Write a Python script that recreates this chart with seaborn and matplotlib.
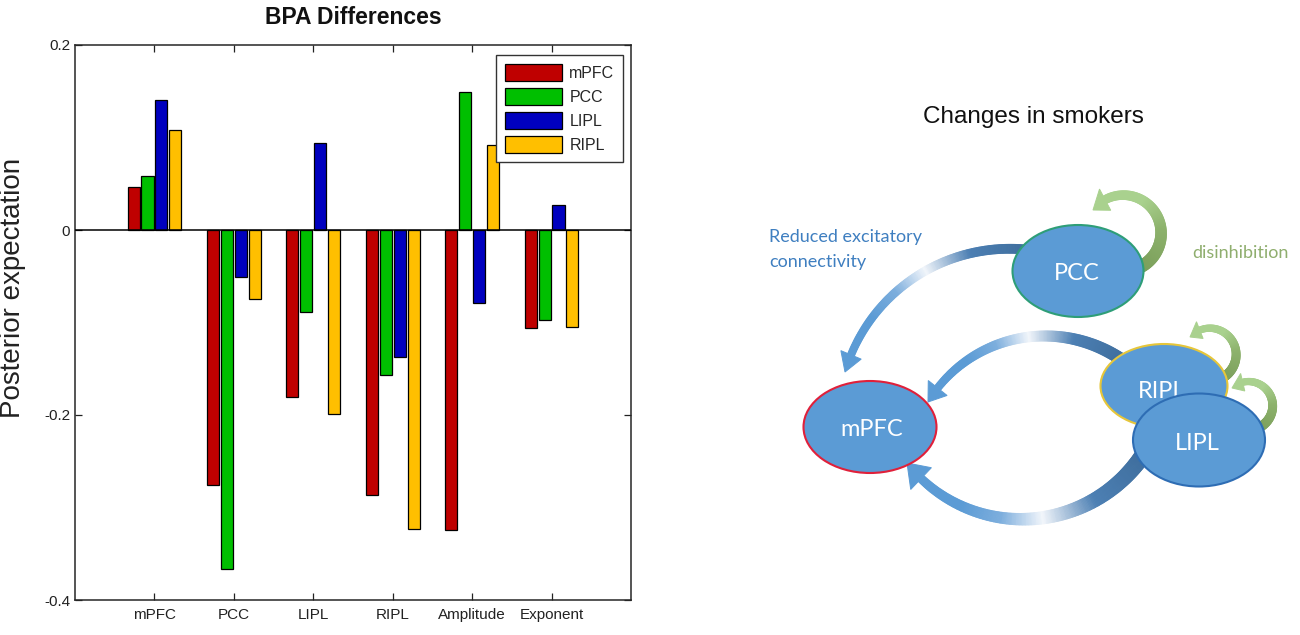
import numpy as np
import pandas as pd
import matplotlib
matplotlib.use("Agg")
import matplotlib.pyplot as plt
import seaborn as sns
from matplotlib.patches import Ellipse, Polygon
from matplotlib.collections import PolyCollection
from matplotlib.colors import LinearSegmentedColormap

# ---------------- data ----------------
parameters = ["mPFC", "PCC", "LIPL", "RIPL", "Amplitude", "Exponent"]
regions = ["mPFC", "PCC", "LIPL", "RIPL"]
mpfc_values = [0.047, -0.276, -0.180, -0.286, -0.324, -0.106]
pcc_values = [0.058, -0.367, -0.089, -0.157, 0.149, -0.097]
lipl_values = [0.141, -0.051, 0.094, -0.137, -0.079, 0.027]
ripl_values = [0.108, -0.075, -0.199, -0.323, 0.092, -0.105]
region_colors = ["#BF0000", "#00BF00", "#0000BF", "#FFBF00"]
ytick_values = [0.2, 0, -0.2, -0.4]
ytick_labels = ["0.2", "0", "-0.2", "-0.4"]

sns.set_style("ticks")
plt.rcParams["font.family"] = ["Liberation Sans", "DejaVu Sans"]

rows = []
for reg, vals in zip(regions, [mpfc_values, pcc_values, lipl_values, ripl_values]):
    for p, v in zip(parameters, vals):
        rows.append({"parameter": p, "region": reg, "value": v})
df = pd.DataFrame(rows)

W, H = 1300, 635
fig = plt.figure(figsize=(W / 100, H / 100), dpi=100)
fig.patch.set_facecolor("white")

# ---------------- left: bar chart ----------------
ax = fig.add_axes([75 / W, 1 - 600 / H, 556 / W, 555 / H])
sns.barplot(data=df, x="parameter", y="value", hue="region", order=parameters,
            hue_order=regions, palette=region_colors, width=0.7, gap=0.13,
            saturation=1, edgecolor="black", linewidth=0.9, errorbar=None, ax=ax)
ax.axhline(0, color="black", lw=1.1, zorder=3)
ax.set_xlim(-1, len(parameters))
ax.set_ylim(min(ytick_values), max(ytick_values))
ax.set_yticks(ytick_values)
ax.set_yticklabels(ytick_labels)
ax.set_xlabel("")
ax.set_ylabel("Posterior expectation", fontsize=20, color="#222222")
ax.yaxis.set_label_coords(-0.088, 0.562)
ax.tick_params(axis="both", direction="in", length=5, width=0.9, top=True,
               right=True, labelsize=11, colors="#222222")
ax.tick_params(axis="x", pad=6)
ax.tick_params(axis="y", pad=3.5)
for s in ax.spines.values():
    s.set_visible(True)
    s.set_color("#262626")
    s.set_linewidth(1.1)

handles, labels = ax.get_legend_handles_labels()
leg = ax.legend(handles, labels, loc="upper right", bbox_to_anchor=(0.986, 0.982),
                borderaxespad=0, frameon=True, fancybox=False, edgecolor="#333333",
                framealpha=1, fontsize=11.5, handlelength=3.6, handleheight=1.25,
                labelspacing=0.45, handletextpad=0.45, borderpad=0.55)
leg.get_frame().set_linewidth(1.0)
for h in leg.legend_handles:
    h.set_edgecolor("black")
    h.set_linewidth(0.9)

fig.text(353 / W, 1 - 18 / H, "BPA Differences", ha="center", va="center",
         fontsize=16.5, fontweight="bold", color="#111111")

# ---------------- right: diagram ----------------
ax2 = fig.add_axes([0, 0, 1, 1])
ax2.set_xlim(0, W)
ax2.set_ylim(H, 0)
ax2.set_axis_off()


def circle_arc(p0, pm, p1, n=200):
    (x1, y1), (x2, y2), (x3, y3) = p0, pm, p1
    d = 2 * (x1 * (y2 - y3) + x2 * (y3 - y1) + x3 * (y1 - y2))
    ux = ((x1**2 + y1**2) * (y2 - y3) + (x2**2 + y2**2) * (y3 - y1) + (x3**2 + y3**2) * (y1 - y2)) / d
    uy = ((x1**2 + y1**2) * (x3 - x2) + (x2**2 + y2**2) * (x1 - x3) + (x3**2 + y3**2) * (x2 - x1)) / d
    r = np.hypot(x1 - ux, y1 - uy)
    a0 = np.arctan2(y1 - uy, x1 - ux)
    am = np.arctan2(y2 - uy, x2 - ux)
    a1 = np.arctan2(y3 - uy, x3 - ux)
    tp = 2 * np.pi
    if (am - a0) % tp < (a1 - a0) % tp:
        ang = a0 + np.linspace(0, (a1 - a0) % tp, n)
    else:
        ang = a0 - np.linspace(0, (a0 - a1) % tp, n)
    return np.column_stack([ux + r * np.cos(ang), uy + r * np.sin(ang)])


def curved_arrow(axis, p0, pm, p1, w0, w1, head_w, head_len, cmap, z=1):
    pts = circle_arc(p0, pm, p1)
    s = np.concatenate([[0], np.cumsum(np.hypot(*np.diff(pts, axis=0).T))])
    total = s[-1]
    sb = total - head_len
    m = s <= sb
    body, sbody = pts[m], s[m]
    tang = np.gradient(body, axis=0)
    tang /= np.hypot(tang[:, 0], tang[:, 1])[:, None]
    nrm = np.column_stack([-tang[:, 1], tang[:, 0]])
    w = w0 + (w1 - w0) * sbody / sb
    left = body + nrm * w[:, None] / 2
    right = body - nrm * w[:, None] / 2
    quads = [[left[i], left[i + 1], right[i + 1], right[i]] for i in range(len(body) - 1)]
    cols = cmap(sbody[:-1] / total)
    axis.add_collection(PolyCollection(quads, facecolors=cols, edgecolors=cols,
                                       linewidths=0.7, zorder=z))
    base = body[-1]
    tip = pts[-1]
    n_ = nrm[-1]
    tri = [base + n_ * head_w / 2, tip, base - n_ * head_w / 2]
    axis.add_patch(Polygon(tri, closed=True, facecolor=cmap(1.0),
                           edgecolor=cmap(1.0), lw=0.7, zorder=z))


blue_cmap = LinearSegmentedColormap.from_list(
    "bluefade", [(0.0, "#3E6D9C"), (0.25, "#4C7FB3"), (0.45, "#F2F6FB"),
                 (0.6, "#7DAEDD"), (0.75, "#5B9BD5"), (1.0, "#5B9BD5")])
green_cmap = LinearSegmentedColormap.from_list(
    "greenfade", [(0.0, "#7A9E5A"), (0.35, "#8DB26C"), (0.6, "#A9D18E"), (1.0, "#A9D18E")])

# blue connections
curved_arrow(ax2, (1030, 250), (927, 270), (845, 372), 9, 7, 22, 18, blue_cmap)
curved_arrow(ax2, (1125, 362), (1043, 336), (928, 402), 12, 7, 24, 16, blue_cmap)
curved_arrow(ax2, (1145, 452), (1030, 519), (907, 463), 16, 8, 30, 20, blue_cmap)
# green self-connections
curved_arrow(ax2, (1138, 268), (1160, 224), (1093, 210), 12, 8, 24, 16, green_cmap)
curved_arrow(ax2, (1222, 378), (1236, 352), (1190, 337), 9, 6, 18, 12, green_cmap)
curved_arrow(ax2, (1258, 428), (1272, 400), (1232, 388), 9, 6, 18, 12, green_cmap)

nodes = [
    ("PCC", 1078, 271, 131, 92, "#2E9E78", 1077, 273),
    ("mPFC", 870, 427, 133, 92, "#E0203A", 872, 429),
    ("RIPL", 1164, 386, 127, 84, "#E6C63A", 1162, 391),
    ("LIPL", 1199, 440, 132, 93, "#2E6DB4", 1197, 443),
]
for i, (name, cx, cy, ew, eh, ec, tx, ty) in enumerate(nodes):
    ax2.add_patch(Ellipse((cx, cy), ew, eh, facecolor="#5B9BD5", edgecolor=ec,
                          lw=1.5, zorder=2 + 2 * i))
    ax2.text(tx, ty, name, color="white", fontsize=17, family=["Lato", "DejaVu Sans"],
             ha="center", va="center", zorder=3 + 2 * i)

ax2.text(769, 237, "Reduced excitatory", color="#3F7FC0", fontsize=13,
         family=["Lato", "DejaVu Sans"], ha="left", va="center")
ax2.text(769, 262, "connectivity", color="#3F7FC0", fontsize=13,
         family=["Lato", "DejaVu Sans"], ha="left", va="center")
ax2.text(1192, 253, "disinhibition", color="#8FAE6E", fontsize=13,
         family=["Lato", "DejaVu Sans"], ha="left", va="center")
ax2.text(1033, 117, "Changes in smokers", color="#111111", fontsize=17.5,
         ha="center", va="center")

fig.savefig("out.png", dpi=100, facecolor="white")
